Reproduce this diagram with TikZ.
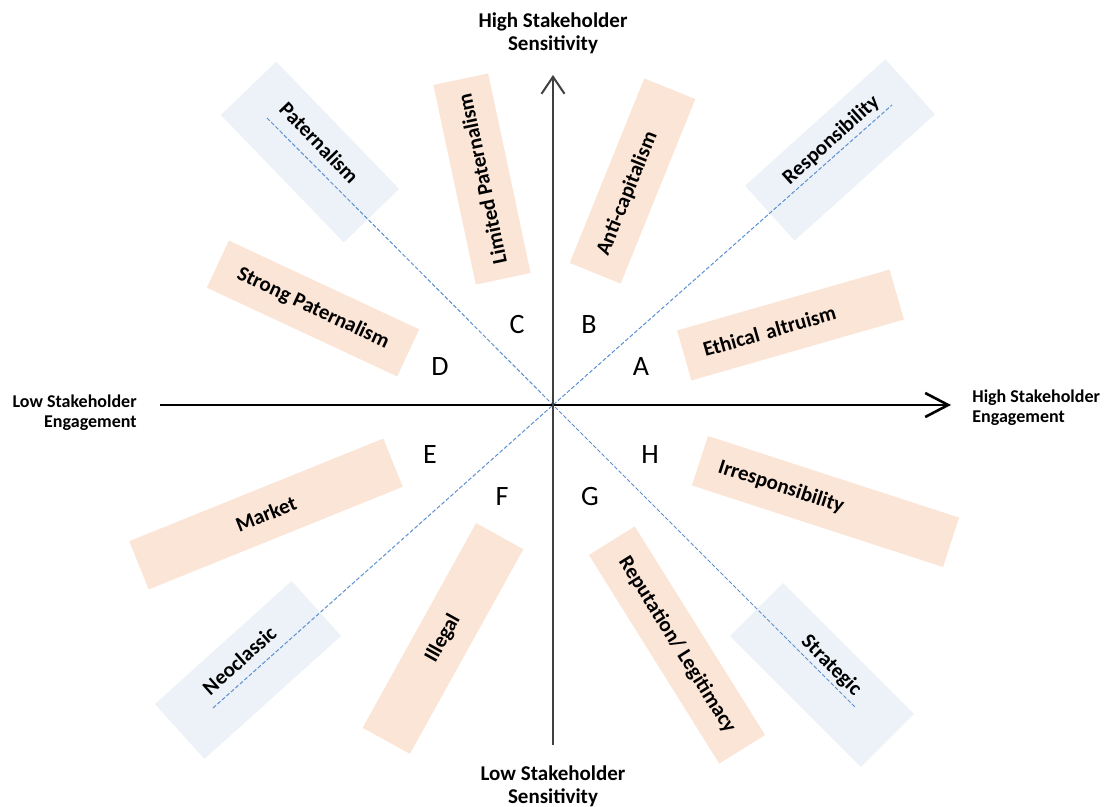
\documentclass[tikz,border=0pt]{standalone}
\usepackage{fontspec}
\setmainfont{Carlito}
\usepackage{tikz}
\usetikzlibrary{arrows.meta,calc}
\definecolor{peach}{RGB}{251,229,214}
\definecolor{paleblue}{RGB}{237,242,249}
\definecolor{diagblue}{RGB}{91,143,208}
\definecolor{axisgrey}{RGB}{64,64,64}

\begin{document}
\begin{tikzpicture}[x=0.5pt,y=-0.5pt,
    obox/.style={rectangle,fill=peach,inner sep=0pt,minimum height=26pt,
                 font=\fontsize{10.5}{12}\selectfont\bfseries},
    bbox/.style={rectangle,fill=paleblue,inner sep=0pt,minimum height=37.5pt},
    btext/.style={inner sep=0pt,font=\fontsize{10.5}{12}\selectfont\bfseries},
    axlbl/.style={inner sep=0pt,align=center,font=\fontsize{10.5}{11.5}\selectfont\bfseries},
    sidelbl/.style={inner sep=0pt,font=\fontsize{9}{10}\selectfont\bfseries},
    zone/.style={inner sep=0pt,font=\fontsize{14}{16}\selectfont},
    diag/.style={diagblue,line width=0.5pt,dash pattern=on 2pt off 1pt}]
    \useasboundingbox (0,0) rectangle (1104,807);
    % ------------------------------------------------------------------
    %                             BOXES
    % ------------------------------------------------------------------
    % upper half
    \node[obox,rotate=102,minimum width=102pt,minimum height=28pt] (limpat) at (482,179)   {Limited Paternalism};
    \node[obox,rotate=68,minimum width=99.5pt,minimum height=27.5pt,
          text width=79.5pt,align=left]                            (anticap) at (632.5,181) {Anti-capitalism};
    \node[obox,rotate=-25,minimum width=105pt]                     (strongpat) at (313,308.5) {Strong Paternalism};
    \node[obox,rotate=16,minimum width=110.5pt,
          text width=90.5pt,align=left]                            (ethic) at (790.5,325)  {Ethical altruism};
    % lower half
    \node[obox,rotate=22,minimum width=137pt]                      (market) at (266,514)   {Market};
    \node[obox,rotate=-18,minimum width=132pt,
          text width=112pt,align=left]                             (irresp) at (825.5,501.5) {Irresponsibility};
    \node[obox,rotate=61,minimum width=117pt,minimum height=27pt]  (illegal) at (443,638.5) {Illegal};
    \node[obox,rotate=-58,minimum width=123pt,minimum height=27pt] (reput) at (677,645)    {Reputation/ Legitimacy};
    % corners
    \node[bbox,rotate=-46,minimum width=88.5pt,minimum height=38.5pt] (pat)   at (310,152) {};
    \node[bbox,rotate=42,minimum width=94.5pt,minimum height=37pt]    (resp)  at (840,150) {};
    \node[bbox,rotate=42,minimum width=92pt,minimum height=37pt]      (neo)   at (248,670) {};
    \node[bbox,rotate=-45,minimum width=92.5pt]                       (strat) at (822,675) {};

    % ------------------------------------------------------------------
    %                             DIAGONALS
    % ------------------------------------------------------------------
    \coordinate (o)  at (553,405);
    \coordinate (nw) at (267,118);
    \coordinate (se) at (856,708);
    \coordinate (ne) at (892,105);
    \coordinate (sw) at (213,708);
    \draw[diag] (nw) -- (o) -- (se);
    \draw[diag] (sw) -- (o) -- (ne);

    % corner texts, a little above the dashed line
    \node[btext,rotate=-46] (pattxt)   at ($(pat.center)!6.5pt!90:(pat.east)$)     {Paternalism};
    \node[btext,rotate=42]  (resptxt)  at ($(resp.center)!6.5pt!90:(resp.east)$)   {Responsibility};
    \node[btext,rotate=42]  (neotxt)   at ($(neo.center)!6.5pt!90:(neo.east)$)     {Neoclassic};
    \node[btext,rotate=-45] (strattxt) at ($(strat.center)!6.5pt!90:(strat.east)$) {Strategic};

    % ------------------------------------------------------------------
    %                             AXES
    % ------------------------------------------------------------------
    \coordinate (xl) at (160,405);
    \coordinate (xr) at (951,405);
    \coordinate (yb) at (553,745);
    \coordinate (yt) at (553,75);
    \draw[black,line width=1.3pt,-{Straight Barb[length=11.5pt,width=12pt]}] (xl) -- (xr);
    \draw[axisgrey,line width=1pt,-{Straight Barb[length=8.5pt,width=11.5pt]}] (yb) -- (yt);

    \node[axlbl]                          (hisens) at (553,33)  {High Stakeholder\\Sensitivity};
    \node[axlbl]                          (losens) at (553,786) {Low Stakeholder\\Sensitivity};
    \node[sidelbl,align=right,anchor=east] (loeng) at (137,413) {Low Stakeholder\\Engagement};
    \node[sidelbl,align=left,anchor=west]  (hieng) at (972,408) {High Stakeholder\\Engagement};

    % zone letters
    \node[zone] (za) at (641,367) {A};
    \node[zone] (zb) at (589,325) {B};
    \node[zone] (zc) at (517,325) {C};
    \node[zone] (zd) at (440,367) {D};
    \node[zone] (ze) at (430,455) {E};
    \node[zone] (zf) at (502,497) {F};
    \node[zone] (zg) at (590,497) {G};
    \node[zone] (zh) at (650,455) {H};
\end{tikzpicture}
\end{document}
